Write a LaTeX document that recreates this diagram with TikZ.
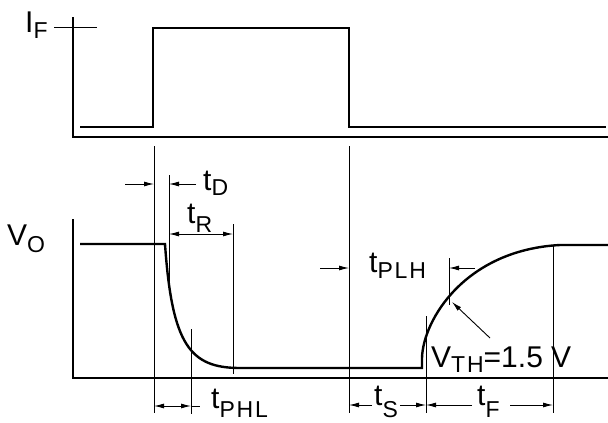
\documentclass[tikz,border=0pt]{standalone}
\usepackage{fontspec}
\setmainfont{Liberation Sans}
\usetikzlibrary{arrows.meta}
\newcommand\subl[2][6pt]{\raisebox{-#1}{\fontsize{23}{23}\selectfont\addfontfeatures{LetterSpace=8}#2}}
\begin{document}
\begin{tikzpicture}[x=1pt,y=-1pt,
  sig/.style={line width=2.4pt,line join=miter},
  axisline/.style={line width=1.4pt},
  guide/.style={line width=0.9pt},
  dimarr/.style={line width=0.9pt,-{Latex[length=10pt,width=5pt]}},
  dimboth/.style={line width=0.9pt,{Latex[length=10pt,width=5pt]}-{Latex[length=10pt,width=5pt]}},
  lab/.style={font=\fontsize{30}{30}\selectfont,inner sep=0pt,anchor=base west}]
\useasboundingbox (0,0) rectangle (608,423);

% ---- top panel: I_F ----
\draw[axisline] (73,17) -- (73,137) -- (608,137);
\draw[guide] (54,27) -- (97,27);
\node[lab] (IF) at (25,32) {I\subl[6pt]{F}};
\draw[sig] (80,127) -- (153,127) -- (153,28) -- (349,28) -- (349,127) -- (606,127);

% ---- bottom panel: V_O ----
\draw[axisline] (73,219) -- (73,378) -- (608,378);
\node[lab] (VO) at (7,245) {V\subl[7pt]{O}};
\draw[sig] (80,244) -- (165,244) .. controls (172,345) and (190,368) .. (240,368)
  -- (422,368) -- (422,358) .. controls (423,320) and (465,250) .. (560,245) -- (608,245);

% ---- guide lines ----
\draw[guide] (154,146) -- (154,413);
\draw[guide] (349,146) -- (349,413);
\draw[guide] (169,175) -- (169,290);
\draw[guide] (233,224) -- (233,374);
\draw[guide] (191,329) -- (191,414);
\draw[guide] (449,258) -- (449,305);
\draw[guide] (426,316) -- (426,413);
\draw[guide] (553,245) -- (553,413);

% ---- coordinates for dimension arrows ----
\coordinate (tDa) at (125,184);
\coordinate (tDb) at (154,184);
\coordinate (tDc) at (196,184);
\coordinate (tDd) at (169,184);
\coordinate (tRa) at (169,234);
\coordinate (tRb) at (233,234);
\coordinate (tPHLa) at (154,406);
\coordinate (tPHLb) at (191,406);
\coordinate (tPHLc) at (200,406);
\coordinate (tPLHa) at (320,268);
\coordinate (tPLHb) at (349,268);
\coordinate (tPLHc) at (475,268);
\coordinate (tPLHd) at (449,268);
\coordinate (tSa) at (372,405);
\coordinate (tSb) at (349,405);
\coordinate (tSc) at (400,405);
\coordinate (tSd) at (426,405);
\coordinate (tFa) at (472,405);
\coordinate (tFb) at (426,405);
\coordinate (tFc) at (510,405);
\coordinate (tFd) at (553,405);
\coordinate (VTHa) at (490,338);
\coordinate (VTHb) at (452,302);

% ---- labels ----
\node[lab] (tD) at (203,190) {t\subl[5pt]{D}};
\node[lab] (tR) at (187,223) {t\subl[9pt]{R}};
\node[lab] (tPHL) at (211,408) {t\subl[9pt]{PHL}};
\node[lab] (tPLH) at (369,272) {t\subl[6pt]{PLH}};
\node[lab] (tS) at (374,405) {t\subl[12pt]{S}};
\node[lab] (tF) at (477,405) {t\subl[12pt]{F}};
\node[lab] (VTH) at (431,367) {V\subl[5pt]{TH}=1.5 V};

% ---- arrows ----
\draw[dimarr] (tDa) -- (tDb);
\draw[dimarr] (tDc) -- (tDd);
\draw[dimboth] (tRa) -- (tRb);
\draw[dimboth] (tPHLa) -- (tPHLb);
\draw[guide] (tPHLb) -- (tPHLc);
\draw[dimarr] (tPLHa) -- (tPLHb);
\draw[dimarr] (tPLHc) -- (tPLHd);
\draw[dimarr] (tSa) -- (tSb);
\draw[dimarr] (tSc) -- (tSd);
\draw[dimarr] (tFa) -- (tFb);
\draw[dimarr] (tFc) -- (tFd);
\draw[dimarr] (VTHa) -- (VTHb);
\end{tikzpicture}
\end{document}
